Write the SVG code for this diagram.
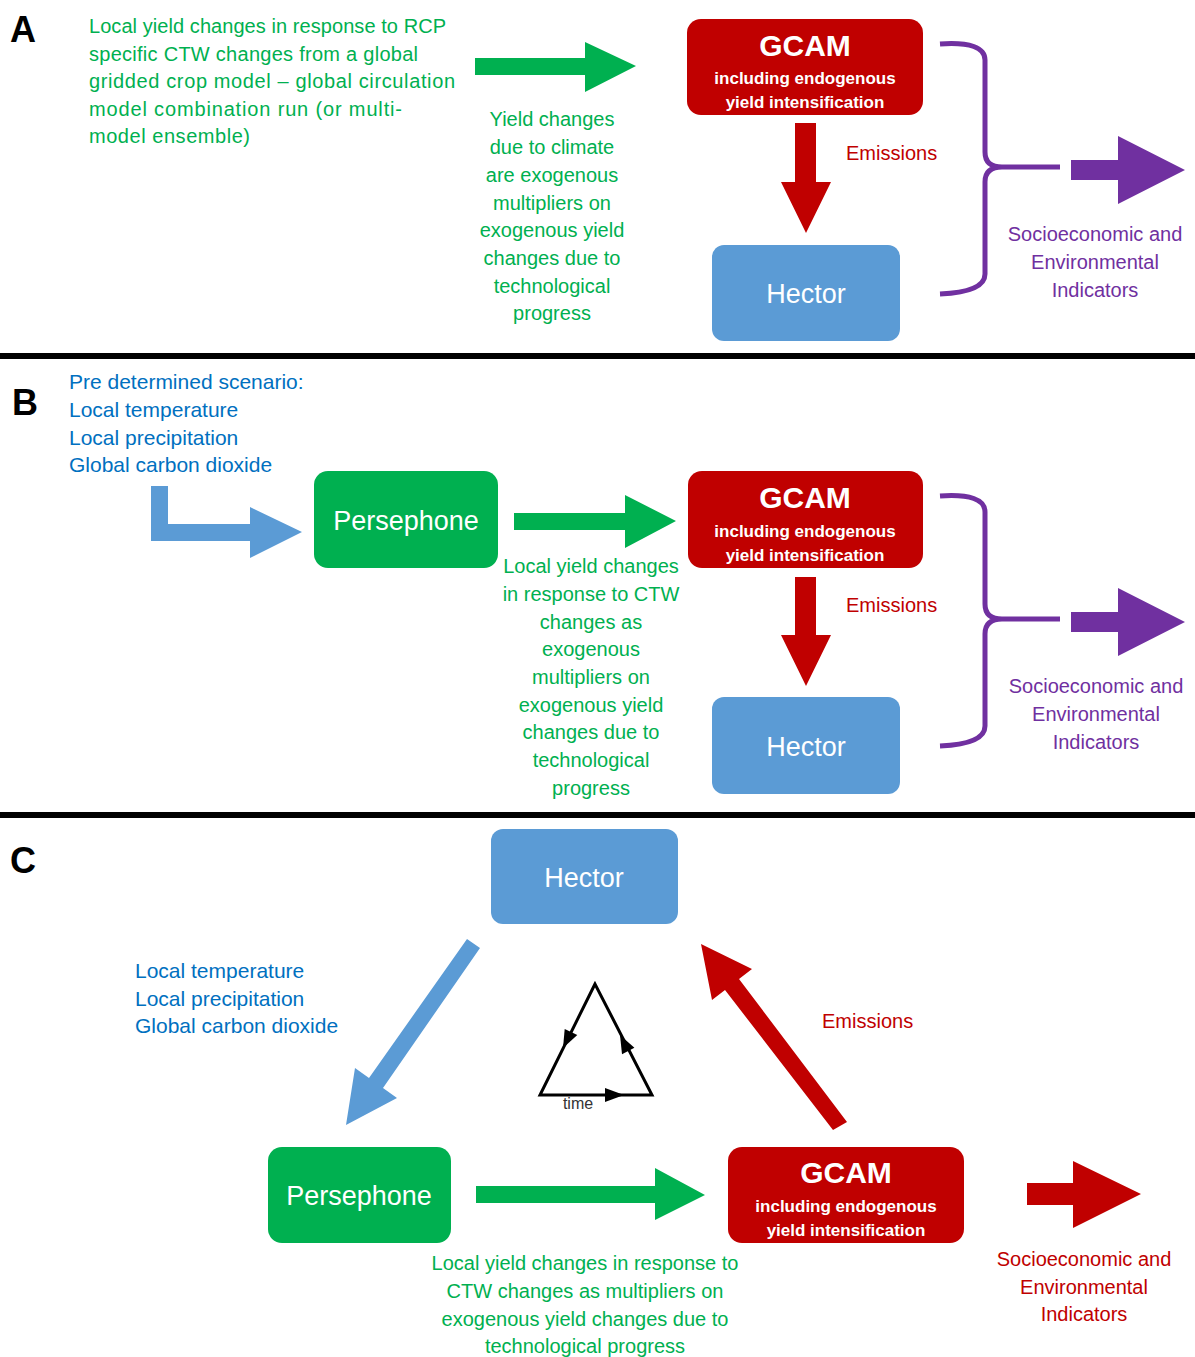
<svg xmlns="http://www.w3.org/2000/svg" width="1195" height="1357" viewBox="0 0 1195 1357">
<style>
text{font-family:"Liberation Sans",Arial,sans-serif}
.lbl{font-size:36px;font-weight:bold;fill:#000}
.g{font-size:20px;fill:#00B050}
.b{font-size:21px;fill:#0070C0}
.r{font-size:20px;fill:#C00000}
.p{font-size:20px;fill:#7030A0}
.c{text-anchor:middle}
.box-red{fill:#C00000}
.box-blue{fill:#5B9BD5}
.box-green{fill:#00B050}
.t1{font-size:30px;font-weight:bold;fill:#fff;text-anchor:middle}
.t2{font-size:17px;font-weight:bold;fill:#fff;text-anchor:middle}
.tn{font-size:27px;fill:#fff;text-anchor:middle}
.brace{fill:none;stroke:#7030A0;stroke-width:5}
.tri{fill:none;stroke:#000;stroke-width:3;stroke-linejoin:miter}
</style>
<rect width="1195" height="1357" fill="#fff"/>

<!-- separators -->
<rect x="0" y="353" width="1195" height="6" fill="#000"/>
<rect x="0" y="812" width="1195" height="6" fill="#000"/>

<!-- section labels -->
<text class="lbl" x="10" y="42">A</text>
<text class="lbl" x="12" y="415">B</text>
<text class="lbl" x="10" y="873">C</text>

<!-- ===== Section A ===== -->
<g id="textA-input">
<text class="g" x="89" y="33" textLength="357">Local yield changes in response to RCP</text>
<text class="g" x="89" y="61" textLength="329">specific CTW changes from a global</text>
<text class="g" x="89" y="88" textLength="366">gridded crop model – global circulation</text>
<text class="g" x="89" y="116" textLength="313">model combination run (or multi-</text>
<text class="g" x="89" y="143" textLength="161">model ensemble)</text>
</g>
<g id="gcamA">
<rect class="box-red" x="687" y="19" width="236" height="96" rx="14"/>
<text class="t1" x="805" y="56">GCAM</text>
<text class="t2" x="805" y="84">including  endogenous</text>
<text class="t2" x="805" y="108">yield intensification</text>
</g>
<g id="hectorA">
<rect class="box-blue" x="712" y="245" width="188" height="96" rx="12"/>
<text class="tn" x="806" y="303">Hector</text>
</g>
<g id="outA">
<text class="p c" x="1095" y="241">Socioeconomic and</text>
<text class="p c" x="1095" y="269">Environmental</text>
<text class="p c" x="1095" y="297">Indicators</text>
</g>

<!-- ===== Section B ===== -->
<g id="textB-input">
<text class="b" x="69" y="389">Pre determined scenario:</text>
<text class="b" x="69" y="417">Local temperature</text>
<text class="b" x="69" y="445">Local precipitation</text>
<text class="b" x="69" y="472">Global carbon dioxide</text>
</g>
<g id="persephoneB">
<rect class="box-green" x="314" y="471" width="184" height="97" rx="14"/>
<text class="tn" x="406" y="530">Persephone</text>
</g>
<g id="gcamB">
<rect class="box-red" x="688" y="471" width="235" height="97" rx="14"/>
<text class="t1" x="805" y="508">GCAM</text>
<text class="t2" x="805" y="537">including  endogenous</text>
<text class="t2" x="805" y="561">yield intensification</text>
</g>
<g id="hectorB">
<rect class="box-blue" x="712" y="697" width="188" height="97" rx="12"/>
<text class="tn" x="806" y="756">Hector</text>
</g>
<g id="outB">
<text class="p c" x="1096" y="693">Socioeconomic and</text>
<text class="p c" x="1096" y="721">Environmental</text>
<text class="p c" x="1096" y="749">Indicators</text>
</g>

<!-- ===== Section C ===== -->
<g id="hectorC">
<rect class="box-blue" x="491" y="829" width="187" height="95" rx="12"/>
<text class="tn" x="584" y="887">Hector</text>
</g>
<g id="textC-climate">
<text class="b" x="135" y="978">Local temperature</text>
<text class="b" x="135" y="1006">Local precipitation</text>
<text class="b" x="135" y="1033">Global carbon dioxide</text>
</g>
<g id="persephoneC">
<rect class="box-green" x="268" y="1147" width="183" height="96" rx="14"/>
<text class="tn" x="359" y="1205">Persephone</text>
</g>
<g id="gcamC">
<rect class="box-red" x="728" y="1147" width="236" height="96" rx="14"/>
<text class="t1" x="846" y="1183">GCAM</text>
<text class="t2" x="846" y="1212">including  endogenous</text>
<text class="t2" x="846" y="1236">yield intensification</text>
</g>
<g id="outC">
<text class="r c" x="1084" y="1266">Socioeconomic and</text>
<text class="r c" x="1084" y="1294">Environmental</text>
<text class="r c" x="1084" y="1321">Indicators</text>
</g>
<g id="timeCycle">
<polygon class="tri" points="595,984 540,1095 652,1095"/>
<polygon points="563,1048 564.7,1028.9 577.3,1035.1" fill="#000"/>
<polygon points="620,1035 622,1054.2 634.4,1047.8" fill="#000"/>
<polygon points="624,1095 605,1088 605,1102" fill="#000"/>
<text x="578" y="1109" style="font-size:16px;fill:#333;text-anchor:middle">time</text>
</g>

<!-- ===== Connectors ===== -->
<g id="connectors">
<!-- A -->
<polygon fill="#00B050" points="475,58 585,58 585,42 636,66 585,92 585,75 475,75"/>
<g id="labelA-yield">
<text class="g c" x="552" y="126">Yield changes</text>
<text class="g c" x="552" y="154">due to climate</text>
<text class="g c" x="552" y="182">are exogenous</text>
<text class="g c" x="552" y="210">multipliers on</text>
<text class="g c" x="552" y="237">exogenous yield</text>
<text class="g c" x="552" y="265">changes due to</text>
<text class="g c" x="552" y="293">technological</text>
<text class="g c" x="552" y="320">progress</text>
</g>
<polygon fill="#C00000" points="795,123 816,123 816,182 831,182 806,233 781,182 795,182"/>
<text class="r" x="846" y="160">Emissions</text>
<path class="brace" d="M940,44 Q985,41 985,60 L985,152 Q985,167 1002,167 L1060,167 M1002,167 Q985,167 985,182 L985,274 Q985,292 940,294"/>
<polygon fill="#7030A0" points="1071,160 1118,160 1118,136 1185,170 1118,204 1118,180 1071,180"/>

<!-- B -->
<polygon fill="#5B9BD5" points="151,486 168,486 168,524 250,524 250,507 302,532 250,558 250,541 151,541"/>
<polygon fill="#00B050" points="514,513 625,513 625,495 676,521 625,548 625,530 514,530"/>
<g id="labelB-yield">
<text class="g c" x="591" y="573">Local yield changes</text>
<text class="g c" x="591" y="601">in response to  CTW</text>
<text class="g c" x="591" y="629">changes as</text>
<text class="g c" x="591" y="656">exogenous</text>
<text class="g c" x="591" y="684">multipliers on</text>
<text class="g c" x="591" y="712">exogenous yield</text>
<text class="g c" x="591" y="739">changes due to</text>
<text class="g c" x="591" y="767">technological</text>
<text class="g c" x="591" y="795">progress</text>
</g>
<polygon fill="#C00000" points="795,577 816,577 816,635 831,635 806,686 781,635 795,635"/>
<text class="r" x="846" y="612">Emissions</text>
<path class="brace" d="M940,496 Q985,493 985,512 L985,604 Q985,619 1002,619 L1060,619 M1002,619 Q985,619 985,634 L985,726 Q985,744 940,746"/>
<polygon fill="#7030A0" points="1071,612 1118,612 1118,588 1185,622 1118,656 1118,632 1071,632"/>

<!-- C -->
<polygon fill="#5B9BD5" points="467,939 480,948 383,1088 397,1098 346,1125 355,1068 369,1078"/>
<polygon fill="#C00000" points="701,944 752,969 739,979 847,1122 833,1130 725,990 712,1000"/>
<text class="r" x="822" y="1028">Emissions</text>
<polygon fill="#00B050" points="476,1186 655,1186 655,1168 705,1195 655,1220 655,1203 476,1203"/>
<g id="labelC-yield">
<text class="g c" x="585" y="1270">Local yield changes in response to</text>
<text class="g c" x="585" y="1298">CTW changes as multipliers on</text>
<text class="g c" x="585" y="1326">exogenous yield changes due to</text>
<text class="g c" x="585" y="1353">technological progress</text>
</g>
<polygon fill="#C00000" points="1027,1183 1073,1183 1073,1161 1141,1194 1073,1228 1073,1205 1027,1205"/>
</g>
</svg>
